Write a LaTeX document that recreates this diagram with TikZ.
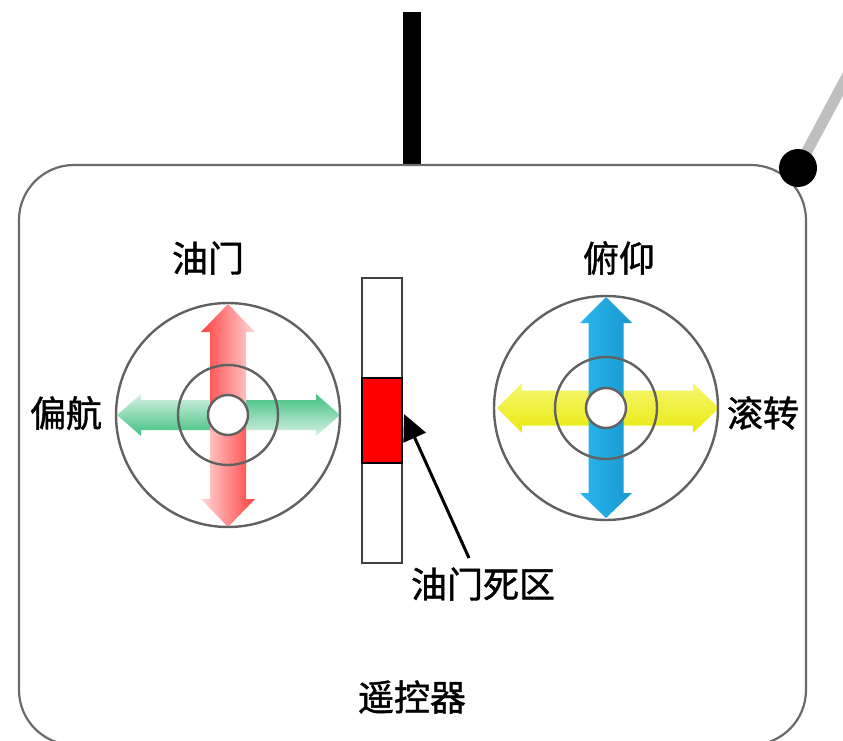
\documentclass[tikz,border=0pt]{standalone}
\usepackage{fontspec}
\newfontfamily\cjk[FakeBold=1.2]{Noto Sans CJK SC}
\usetikzlibrary{arrows.meta}
\definecolor{redA}{HTML}{FF4040}
\definecolor{redB}{HTML}{FFD8D8}
\definecolor{grnA}{HTML}{40C080}
\definecolor{grnB}{HTML}{D8F2E4}
\definecolor{bluA}{HTML}{2AB8EC}
\definecolor{bluB}{HTML}{1896D0}
\definecolor{yelA}{HTML}{F6F670}
\definecolor{yelB}{HTML}{F2F212}
\definecolor{yelC}{HTML}{EAEA10}
\begin{document}
\begin{tikzpicture}[x=1pt,y=-1pt,
  lbl/.style={font=\cjk\fontsize{36}{36}\selectfont, inner sep=0pt},
  ring/.style={draw=black!62, line width=2.4pt},
  bodyline/.style={draw=black!58, line width=2.2pt},
  barbox/.style={draw=black!75, line width=2.2pt, fill=white, minimum width=40pt, minimum height=285pt, inner sep=0pt}]
\useasboundingbox (0,0) rectangle (843,741);
\clip (0,0) rectangle (843,741);
% antennas
\fill[black] (403,12) rectangle (421,165);
\draw[line width=11pt, black!25] (798,168) -- (860,52);
% body
\draw[bodyline, rounded corners=55pt] (19,165) rectangle (806,745);
\fill[black] (798,168) circle[radius=19pt];
% left joystick (centre 228,415)
\path[top color=grnB, bottom color=grnA] (228,400) -- (141,400) -- (141,394) -- (117,415) -- (141,436) -- (141,430) -- (228,430) -- cycle;
\path[top color=grnA, bottom color=grnB] (228,400) -- (316,400) -- (316,394) -- (340,415) -- (316,436) -- (316,430) -- (228,430) -- cycle;
\path[left color=redA, right color=redB] (210,415) -- (210,332) -- (201,332) -- (228,304) -- (255,332) -- (246,332) -- (246,415) -- cycle;
\path[left color=redB, right color=redA] (210,415) -- (210,499) -- (201,499) -- (228,527) -- (255,499) -- (246,499) -- (246,415) -- cycle;
\draw[ring] (228,415) circle[radius=112pt];
\draw[ring] (228,415) circle[radius=50pt];
\draw[ring, fill=white] (228,415) circle[radius=20pt];
% right joystick (centre 606,408)
\path[top color=yelA, middle color=yelB, bottom color=yelC] (606,390.5) -- (522,390.5) -- (522,383) -- (497,408) -- (522,433) -- (522,425.5) -- (606,425.5) -- cycle;
\path[top color=yelA, middle color=yelB, bottom color=yelC] (606,390.5) -- (693,390.5) -- (693,383) -- (719,408) -- (693,433) -- (693,425.5) -- (606,425.5) -- cycle;
\path[left color=bluA, right color=bluB] (588.5,408) -- (588.5,323) -- (580,323) -- (606,297) -- (632,323) -- (623.5,323) -- (623.5,408) -- cycle;
\path[left color=bluA, right color=bluB] (588.5,408) -- (588.5,493) -- (580,493) -- (606,518) -- (632,493) -- (623.5,493) -- (623.5,408) -- cycle;
\draw[ring] (606,408) circle[radius=112pt];
\draw[ring] (606,408) circle[radius=51pt];
\draw[ring, fill=white] (606,408) circle[radius=20pt];
% throttle bar
\node[barbox] (bar) at (382,420.5) {};
\draw[fill=red, draw=black, line width=2pt] (362,378) rectangle (402,463);
\coordinate (tip) at (404,414);
\coordinate (ptr) at (469,558);
\draw[line width=3pt, -{Triangle[length=26pt,width=24pt]}] (ptr) -- (tip);
% labels
\node[lbl] (thr) at (208,258) {油门};
\node[lbl] (pit) at (619,258) {俯仰};
\node[lbl] (yaw) at (66,413) {偏航};
\node[lbl] (rol) at (763,413) {滚转};
\node[lbl] (dz) at (483,584) {油门死区};
\node[lbl] (rc) at (412,697) {遥控器};
\end{tikzpicture}
\end{document}
